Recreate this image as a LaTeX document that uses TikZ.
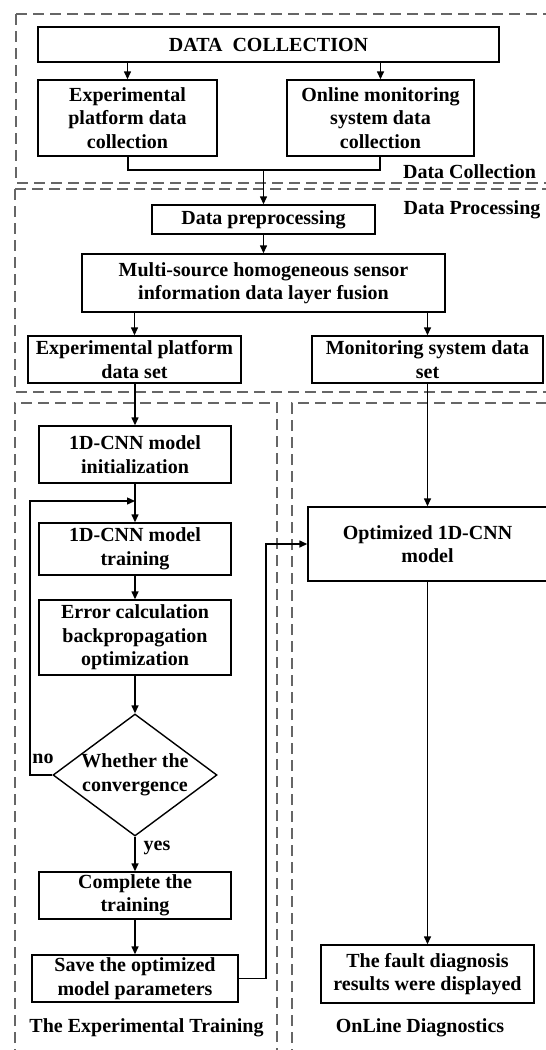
\documentclass[tikz,border=0pt]{standalone}
\usepackage{fontspec}
\setmainfont{Liberation Serif}
\usetikzlibrary{arrows.meta,shapes.geometric}
\begin{document}
\begin{tikzpicture}[x=1pt,y=-1pt,
  every node/.style={font=\fontsize{20}{23.5}\selectfont\bfseries, text=black},
  box/.style={draw=black, line width=1.4pt, align=center, inner sep=0pt, fill=white},
  region/.style={draw=black!60, line width=1.3pt, dash pattern=on 11pt off 6pt},
  conn/.style={draw=black, line width=1.4pt},
  arr/.style={conn, -{Triangle[length=8pt,width=7pt]}},
  lbl/.style={inner sep=0pt}]
\useasboundingbox (0,0) rectangle (546,1050);
% regions
\draw[region] (16,14) -- (560,14) (16,14) -- (16,183) -- (560,183);
\draw[region] (15,189) -- (560,189) (15,189) -- (15,392) -- (560,392);
\draw[region] (15,1060) -- (15,403) -- (277,403) -- (277,1060);
\draw[region] (292,1060) -- (292,403) -- (560,403);
% region labels
\node[lbl] (lDC) at (469.5,172) {Data Collection};
\node[lbl] (lDP) at (472,210) {Data Processing};
\node[lbl] (lET) at (146.5,1028) {The Experimental Training};
\node[lbl] (lOD) at (420,1028) {OnLine Diagnostics};
% boxes
\node[box, minimum width=461pt, minimum height=35pt] (dc) at (268.5,44.5) {DATA\ \ COLLECTION};
\node[box, minimum width=179pt, minimum height=76pt] (epc) at (127.5,118) {Experimental\\platform data\\collection};
\node[box, minimum width=187pt, minimum height=76pt] (omc) at (380.5,118) {Online monitoring\\system data\\collection};
\node[box, minimum width=223pt, minimum height=29pt] (dp) at (263.5,219.5) {Data preprocessing};
\node[box, minimum width=363pt, minimum height=58pt] (msf) at (263.5,283) {Multi-source homogeneous sensor\\information data layer fusion};
\node[box, minimum width=213pt, minimum height=47pt] (eds) at (134.5,359.5) {Experimental platform\\data set};
\node[box, minimum width=231pt, minimum height=47pt] (mds) at (427.5,359.5) {Monitoring system data\\set};
\node[box, minimum width=192pt, minimum height=57pt] (init) at (135,454.5) {1D-CNN model\\initialization};
\node[box, minimum width=192pt, minimum height=52pt] (train) at (135,549) {1D-CNN model\\training};
\node[box, minimum width=192pt, minimum height=75pt] (err) at (135,637.5) {Error calculation\\backpropagation\\optimization};
\node[draw=black, line width=1.4pt, diamond, minimum width=164pt, minimum height=122pt, inner sep=0pt] (conv) at (135,775) {};
\node[lbl, align=center] (convtxt) at (135,775) {Whether the\\convergence};
\node[box, minimum width=192pt, minimum height=47pt] (comp) at (135,895.5) {Complete the\\training};
\node[box, minimum width=206pt, minimum height=47pt] (save) at (135,978.5) {Save the optimized\\model parameters};
\node[box, minimum width=239pt, minimum height=74pt] (opt) at (427.5,544) {Optimized 1D-CNN\\model};
\node[box, minimum width=213pt, minimum height=58pt] (fault) at (427.5,974) {The fault diagnosis\\results were displayed};
\node[lbl] (no) at (43,759) {no};
\node[lbl] (yes) at (157,848) {yes};
% coordinates
\coordinate (m1) at (128,170);
\coordinate (m2) at (380,170);
\coordinate (m3) at (263.5,170);
\coordinate (loopL) at (30,775);
\coordinate (loopT) at (30,501);
\coordinate (loopin) at (135,501);
\coordinate (s1) at (266,978.5);
\coordinate (s2) at (266,544);
% connectors
\draw[arr] (dc.south -| epc.north) -- (epc.north);
\draw[arr] (dc.south -| omc.north) -- (omc.north);
\draw[conn] (epc.south -| m1) -- (m1) -- (m2) -- (omc.south -| m2);
\draw[arr] (m3) -- (dp.north);
\draw[arr] (dp.south) -- (msf.north);
\draw[arr] (msf.south -| eds.north) -- (eds.north);
\draw[arr] (msf.south -| mds.north) -- (mds.north);
\draw[arr] (eds.south -| init.north) -- (init.north);
\draw[arr] (init.south) -- (train.north);
\draw[arr] (train.south) -- (err.north);
\draw[arr] (err.south) -- (conv.north);
\draw[arr] (conv.south) -- (comp.north);
\draw[arr] (comp.south) -- (save.north);
\draw[arr] (conv.west) -- (loopL) -- (loopT) -- (loopin);
\draw[arr] (save.east) -- (s1) -- (s2) -- (opt.west);
\draw[arr] (mds.south -| opt.north) -- (opt.north);
\draw[arr] (opt.south) -- (fault.north);
\end{tikzpicture}
\end{document}
